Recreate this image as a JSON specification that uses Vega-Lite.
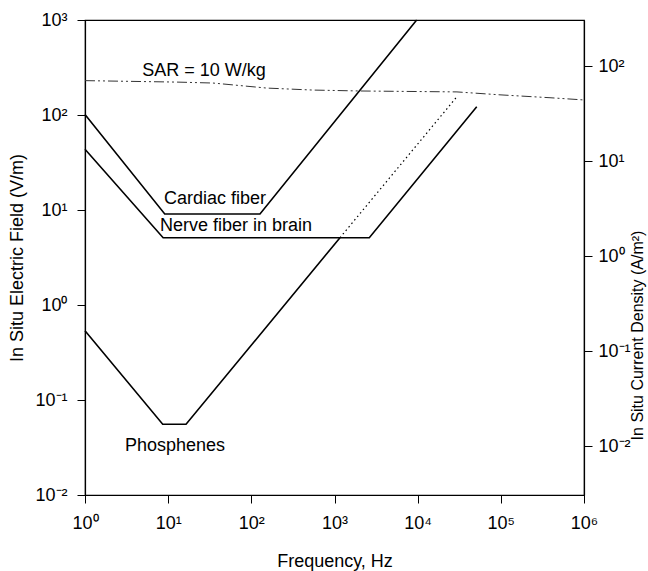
{
  "$schema": "https://vega.github.io/schema/vega-lite/v6.json",
  "width": 499,
  "height": 475,
  "autosize": "none",
  "padding": {"left": 85, "top": 20, "right": 64, "bottom": 76},
  "background": "white",
  "config": {
    "font": "Liberation Sans",
    "view": {"stroke": "black", "strokeWidth": 1.2},
    "axis": {
      "grid": false,
      "domainColor": "black",
      "domainWidth": 1.2,
      "tickColor": "black",
      "tickSize": 8,
      "tickWidth": 1,
      "labelColor": "black",
      "labelFontSize": 18,
      "labelPadding": 8,
      "labelFlush": false,
      "labelOverlap": false,
      "titleColor": "black",
      "titleFontSize": 18,
      "titleFontWeight": "normal",
      "labelExpr": "'10' + {'-3':'⁻³','-2':'⁻²','-1':'⁻¹','0':'⁰','1':'¹','2':'²','3':'³','4':'⁴','5':'⁵','6':'⁶'}['' + round(log(datum.value)/LN10)]"
    }
  },
  "datasets": {
    "solid": [
      {"series": "Cardiac fiber", "f": 1, "E": 101},
      {"series": "Cardiac fiber", "f": 9.1, "E": 9.07},
      {"series": "Cardiac fiber", "f": 127, "E": 9.07},
      {"series": "Cardiac fiber", "f": 9730, "E": 1000},
      {"series": "Nerve fiber in brain", "f": 1, "E": 43.5},
      {"series": "Nerve fiber in brain", "f": 8.7, "E": 5.11},
      {"series": "Nerve fiber in brain", "f": 2620, "E": 5.11},
      {"series": "Nerve fiber in brain", "f": 51300, "E": 122},
      {"series": "Phosphenes", "f": 1, "E": 0.536},
      {"series": "Phosphenes", "f": 8.6, "E": 0.0555},
      {"series": "Phosphenes", "f": 16.4, "E": 0.0555},
      {"series": "Phosphenes", "f": 1164, "E": 5.11}
    ],
    "dotted": [
      {"series": "Phosphenes extension", "f": 1164, "E": 5.11},
      {"series": "Phosphenes extension", "f": 29700, "E": 156}
    ],
    "sar": [
      {"f": 1, "E": 230},
      {"f": 12.8, "E": 222},
      {"f": 34.6, "E": 217},
      {"f": 154, "E": 192},
      {"f": 551, "E": 183},
      {"f": 2025, "E": 179},
      {"f": 29700, "E": 175},
      {"f": 97700, "E": 163},
      {"f": 390000, "E": 152},
      {"f": 1000000, "E": 144}
    ],
    "labels": [
      {"text": "Cardiac fiber", "f": 36.6, "E": 12.9},
      {"text": "Nerve fiber in brain", "f": 65.4, "E": 6.79},
      {"text": "SAR = 10 W/kg", "f": 27, "E": 290},
      {"text": "Phosphenes", "f": 12.1, "E": 0.0328}
    ],
    "rightaxis": [
      {"f": 1, "J": 0.01},
      {"f": 1, "J": 100}
    ]
  },
  "layer": [
    {
      "encoding": {
        "x": {
          "field": "f",
          "type": "quantitative",
          "scale": {"type": "log", "domain": [1, 1000000]},
          "axis": {"orient": "bottom", "values": [1, 10, 100, 1000, 10000, 100000, 1000000], "title": "Frequency, Hz", "labelPadding": 11, "titlePadding": 20}
        },
        "y": {
          "field": "E",
          "type": "quantitative",
          "scale": {"type": "log", "domain": [0.01, 1000]},
          "axis": {"orient": "left", "values": [0.01, 0.1, 1, 10, 100, 1000], "title": "In Situ Electric Field (V/m)", "labelPadding": 10, "titlePadding": 8}
        }
      },
      "layer": [
        {
          "data": {"name": "sar"},
          "mark": {"type": "line", "color": "#333333", "strokeWidth": 1, "strokeDash": [10, 3, 2, 3, 2, 3]}
        },
        {
          "data": {"name": "dotted"},
          "mark": {"type": "line", "color": "black", "strokeWidth": 1.2, "strokeDash": [1.5, 3]}
        },
        {
          "data": {"name": "solid"},
          "mark": {"type": "line", "color": "black", "strokeWidth": 1.6},
          "encoding": {"detail": {"field": "series"}}
        },
        {
          "data": {"name": "labels"},
          "mark": {"type": "text", "fontSize": 18, "color": "black", "align": "center", "baseline": "middle"},
          "encoding": {"text": {"field": "text"}}
        }
      ]
    },
    {
      "data": {"name": "rightaxis"},
      "mark": {"type": "point", "opacity": 0},
      "encoding": {
        "x": {"field": "f", "type": "quantitative", "scale": {"type": "log", "domain": [1, 1000000]}},
        "y": {
          "field": "J",
          "type": "quantitative",
          "scale": {"type": "log", "domain": [0.00305, 305]},
          "axis": {"orient": "right", "values": [0.01, 0.1, 1, 10, 100], "title": "In Situ Current Density (A/m²)", "titleAngle": 270, "titleFontSize": 16, "titleX": 53, "titleY": 315, "titleAlign": "center", "titleBaseline": "middle", "labelPadding": 6}
        }
      }
    }
  ],
  "resolve": {"scale": {"y": "independent"}, "axis": {"y": "independent"}}
}
